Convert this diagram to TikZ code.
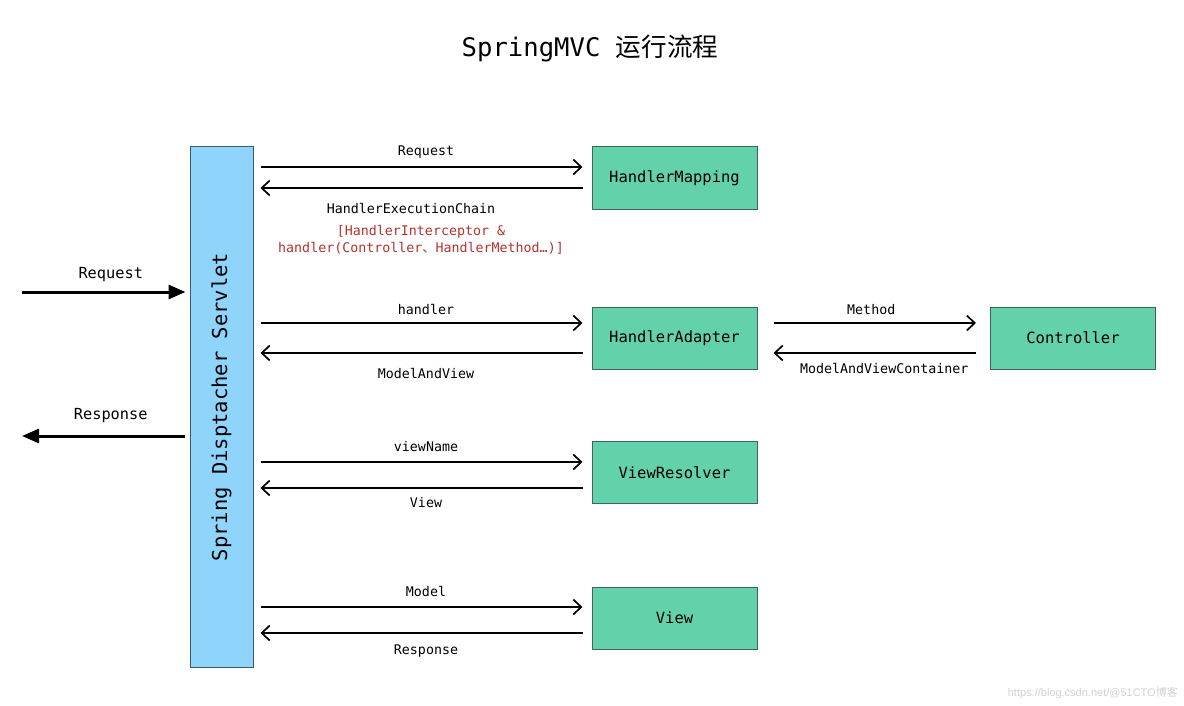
\documentclass[tikz,border=0pt]{standalone}
\usepackage{fontspec}
\setmonofont{DejaVu Sans Mono}
\newfontfamily\cjk{Noto Sans CJK SC}
\newfontfamily\wmfont{Liberation Sans}
\usetikzlibrary{arrows.meta,calc}
\definecolor{servletblue}{HTML}{8FD4FA}
\definecolor{servletedge}{HTML}{3D5A6B}
\definecolor{boxgreen}{HTML}{63D1A9}
\definecolor{boxedge}{HTML}{3E6656}
\definecolor{redtxt}{HTML}{B5332B}
\begin{document}
\begin{tikzpicture}[x=1pt,y=-1pt,
  box/.style={draw=boxedge, line width=1pt, fill=boxgreen, minimum width=165pt, minimum height=62pt, inner sep=0pt, font=\ttfamily\fontsize{15.5}{18}\selectfont},
  servlet/.style={draw=servletedge, line width=1pt, fill=servletblue, minimum width=63pt, minimum height=520pt, inner sep=0pt, font=\ttfamily\fontsize{20.5}{24}\selectfont},
  arr/.style={line width=1.7pt, -{Straight Barb[length=8pt,width=15pt]}},
  bigarr/.style={line width=3pt, -{Triangle[length=17pt,width=14pt]}},
  lbl/.style={font=\ttfamily\fontsize{13.3}{16}\selectfont, inner sep=0pt},
  biglbl/.style={font=\ttfamily\fontsize{15.3}{18}\selectfont, inner sep=0pt},
  titlestyle/.style={font=\ttfamily\fontsize{25.6}{30}\selectfont}
]
\useasboundingbox (0,0) rectangle (1184,706);
\fill[white] (0,0) rectangle (1184,706);

\node[titlestyle] (title) at (590,48) {SpringMVC {\cjk 运行流程}};

\node[servlet] (ds) at (221.5,407) {\rotatebox{90}{Spring Disptacher Servlet}};
\node[box] (hm) at (674.5,178) {HandlerMapping};
\node[box] (ha) at (674.5,338) {HandlerAdapter};
\node[box] (ct) at (1073,338) {Controller};
\node[box] (vr) at (674.5,472.5) {ViewResolver};
\node[box] (vw) at (674.5,618) {View};

% HandlerMapping row
\draw[arr] ($(ds.east |- hm.west)+(7,-11)$) -- ($(hm.west)+(-9,-11)$)
  node[lbl, midway, xshift=4.5pt, yshift=15pt] {Request};
\draw[arr] ($(hm.west)+(-9,10)$) -- ($(ds.east |- hm.west)+(7,10)$)
  node[lbl, midway, xshift=-10.5pt, yshift=-21pt] {HandlerExecutionChain};
\node[font=\ttfamily\fontsize{13.3}{17}\selectfont, text=redtxt, align=center, inner sep=0pt] (chain) at (421,240)
  {[HandlerInterceptor \&\\handler(Controller{\cjk 、}HandlerMethod…)]};

% HandlerAdapter row
\draw[arr] ($(ds.east |- ha.west)+(7,-15)$) -- ($(ha.west)+(-9,-15)$)
  node[lbl, midway, xshift=4.5pt, yshift=13pt] {handler};
\draw[arr] ($(ha.west)+(-9,15)$) -- ($(ds.east |- ha.west)+(7,15)$)
  node[lbl, midway, xshift=4.5pt, yshift=-21pt] {ModelAndView};
\draw[arr] ($(ha.east)+(16,-15)$) -- ($(ct.west)+(-14,-15)$)
  node[lbl, midway, xshift=-3.5pt, yshift=13pt] {Method};
\draw[arr] ($(ct.west)+(-14,15)$) -- ($(ha.east)+(16,15)$)
  node[lbl, midway, xshift=9.5pt, yshift=-16pt] {ModelAndViewContainer};

% ViewResolver row
\draw[arr] ($(ds.east |- vr.west)+(7,-10.5)$) -- ($(vr.west)+(-9,-10.5)$)
  node[lbl, midway, xshift=4.5pt, yshift=15pt] {viewName};
\draw[arr] ($(vr.west)+(-9,15.5)$) -- ($(ds.east |- vr.west)+(7,15.5)$)
  node[lbl, midway, xshift=4.5pt, yshift=-15pt] {View};

% View row
\draw[arr] ($(ds.east |- vw.west)+(7,-11)$) -- ($(vw.west)+(-9,-11)$)
  node[lbl, midway, xshift=4.5pt, yshift=15pt] {Model};
\draw[arr] ($(vw.west)+(-9,15)$) -- ($(ds.east |- vw.west)+(7,15)$)
  node[lbl, midway, xshift=4.5pt, yshift=-18pt] {Response};

% outer request / response
\coordinate (reqsrc) at (22,292);
\coordinate (respdst) at (22,436);
\draw[bigarr] (reqsrc) -- ($(ds.west |- reqsrc)+(-4,0)$)
  node[biglbl, midway, xshift=7pt, yshift=17pt] {Request};
\draw[bigarr] ($(ds.west |- respdst)+(-5,0)$) -- (respdst)
  node[biglbl, midway, xshift=7.5pt, yshift=20pt] {Response};

% watermark
\node[text=black!18, font=\wmfont\fontsize{11}{13}\selectfont, anchor=east, inner sep=0pt] (wm) at (1178,693) {https://blog.csdn.net/@51CTO{\cjk 博客}};
\end{tikzpicture}
\end{document}
